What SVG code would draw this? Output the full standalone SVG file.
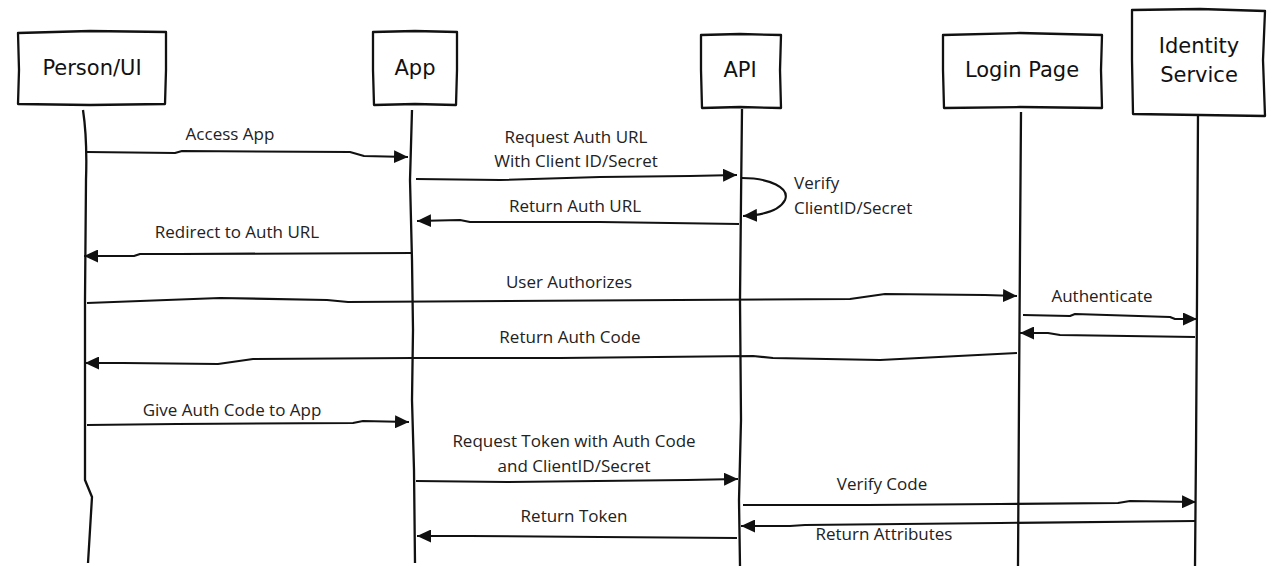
<svg xmlns="http://www.w3.org/2000/svg" width="1270" height="583" viewBox="0 0 1270 583">
<style>
.box{fill:#fff;stroke:#111;stroke-width:2.3;stroke-linejoin:round}
.life{fill:none;stroke:#111;stroke-width:2.3;stroke-linejoin:round}
.msg{fill:none;stroke:#111;stroke-width:2.1;stroke-linejoin:round;marker-end:url(#ah)}
.hd{font-family:"DejaVu Sans",sans-serif;font-size:21px;fill:#111;text-anchor:middle}
.lb{font-family:"Open Sans",sans-serif;font-size:17px;fill:#222;text-anchor:middle}
.lbl{font-family:"Open Sans",sans-serif;font-size:17px;fill:#222;text-anchor:start}
</style>
<defs>
<marker id="ah" markerUnits="userSpaceOnUse" markerWidth="15" markerHeight="13" refX="14" refY="6.5" orient="auto">
<path d="M0,0 L14,6.5 L0,13 Z" fill="#111"/>
</marker>
</defs>
<rect width="1270" height="583" fill="#fff"/>

<g id="lifelines">
<path class="life" d="M83 110 C86 130 87 150 86 180 L85 300 L85 480 L92 497 L90 530 L88 563"/>
<path class="life" d="M412 110 L410 180 L412 260 L413 330 L412 400 L414 470 L415 563"/>
<path class="life" d="M742 109 L741 200 L740 300 L741 420 L739 500 L740 566"/>
<path class="life" d="M1021 112 L1020 250 L1019 400 L1018 566"/>
<path class="life" d="M1198 112 L1197 300 L1196 450 L1195 566"/>
</g>

<g id="person-ui">
<path class="box" d="M18 33 L90 31 L166 32 L166 70 L165 104 L90 105 L18 104 L19 70 Z"/>
<text class="hd" x="92" y="75">Person/UI</text>
</g>
<g id="app">
<path class="box" d="M373 32 L415 31 L457 32 L457 70 L456 105 L415 104 L374 105 L373 70 Z"/>
<text class="hd" x="415" y="75">App</text>
</g>
<g id="api">
<path class="box" d="M701 35 L740 34 L781 35 L780 70 L781 108 L740 107 L702 108 L701 70 Z"/>
<text class="hd" x="740" y="77">API</text>
</g>
<g id="login-page">
<path class="box" d="M943 35 L1020 33 L1102 35 L1101 70 L1102 108 L1020 107 L944 108 L943 70 Z"/>
<text class="hd" x="1022" y="77">Login Page</text>
</g>
<g id="identity-service">
<path class="box" d="M1132 10 L1200 9 L1265 11 L1263 60 L1265 116 L1200 115 L1133 114 L1132 60 Z"/>
<text class="hd" x="1199" y="53">Identity</text>
<text class="hd" x="1199" y="82">Service</text>
</g>

<g id="connectors">
<path class="msg" d="M87 152 L175 153 L182 151 L350 152 L364 156 L408 157"/>
<path class="msg" d="M416 179 L500 180 L600 177 L690 176 L737 175"/>
<path class="msg" d="M742 178 C770 178 790 188 785 200 C780 210 765 215 743 216"/>
<path class="msg" d="M739 224 L600 222 L470 222 L460 220 L417 221"/>
<path class="msg" d="M412 253 L180 254 L140 254 L134 256 L84 256"/>
<path class="msg" d="M87 303 L220 298 L327 300 L348 302 L850 299 L885 294 L985 295 L1017 296"/>
<path class="msg" d="M1023 315 L1070 316 L1075 314 L1170 317 L1175 319 L1197 319"/>
<path class="msg" d="M1195 337 L1060 335 L1048 333 L1020 333"/>
<path class="msg" d="M1017 353 L880 360 L773 358 L753 356 L560 358 L413 358 L253 359 L218 364 L123 363 L85 363"/>
<path class="msg" d="M87 425 L177 424 L353 423 L363 421 L409 422"/>
<path class="msg" d="M416 481 L507 482 L687 480 L738 479"/>
<path class="msg" d="M743 505 L867 505 L1000 504 L1118 503 L1130 501 L1196 502"/>
<path class="msg" d="M1195 521 L1000 523 L805 525 L790 526 L741 526"/>
<path class="msg" d="M737 538 L600 537 L470 536 L417 536"/>
</g>

<g id="labels">
<text class="lb" x="230" y="140">Access App</text>
<text class="lb" x="576" y="143">Request Auth URL</text>
<text class="lb" x="576" y="167">With Client ID/Secret</text>
<text class="lbl" x="794" y="189">Verify</text>
<text class="lbl" x="794" y="214">ClientID/Secret</text>
<text class="lb" x="575" y="212">Return Auth URL</text>
<text class="lb" x="237" y="238">Redirect to Auth URL</text>
<text class="lb" x="569" y="288">User Authorizes</text>
<text class="lb" x="1102" y="302">Authenticate</text>
<text class="lb" x="570" y="343">Return Auth Code</text>
<text class="lb" x="232" y="416">Give Auth Code to App</text>
<text class="lb" x="574" y="447">Request Token with Auth Code</text>
<text class="lb" x="574" y="472">and ClientID/Secret</text>
<text class="lb" x="882" y="490">Verify Code</text>
<text class="lb" x="574" y="522">Return Token</text>
<text class="lb" x="884" y="540">Return Attributes</text>
</g>
</svg>
